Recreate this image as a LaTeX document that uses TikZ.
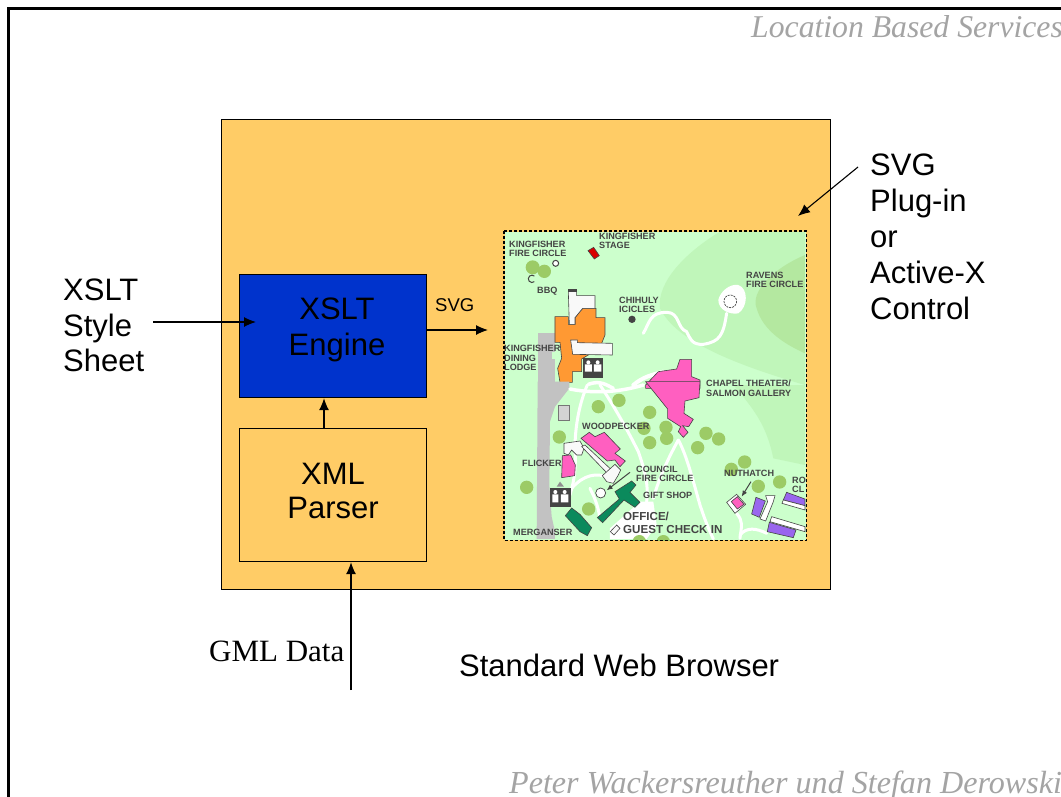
\documentclass[tikz,border=0pt]{standalone}
\usepackage{fontspec}
\setmainfont{Liberation Sans}
\newfontfamily\serifface{Liberation Serif}
\definecolor{browser}{HTML}{FFCC66}
\definecolor{engine}{HTML}{0033CC}
\definecolor{grayfoot}{HTML}{A8A8A8}
\definecolor{mapbg}{HTML}{CCFFCC}
\definecolor{hillA}{HTML}{C0F6BA}
\definecolor{hillB}{HTML}{B4E8A0}
\definecolor{treeg}{HTML}{9CCB66}
\definecolor{pinkb}{HTML}{FF5FC0}
\definecolor{orangeb}{HTML}{FF9933}
\definecolor{greenb}{HTML}{0B8A5C}
\definecolor{purpleb}{HTML}{9966EE}
\definecolor{labelg}{HTML}{444444}
\definecolor{headg}{HTML}{A4A4A4}
\tikzset{
  boxstyle/.style={draw=black,line width=1.2pt,inner sep=0pt,anchor=north west},
  biglabel/.style={font=\fontsize{31}{36}\selectfont,align=left,text=black,inner sep=0pt},
  boxtext/.style={font=\fontsize{31}{36}\selectfont,align=center,text=black,inner sep=0pt},
  arr/.style={-{Latex[length=12pt,width=10pt]},line width=1.1pt,black},
  head/.style={font=\serifface\itshape\fontsize{31.7}{34}\selectfont,text=headg,inner sep=0pt},
  ml/.style={font=\bfseries\fontsize{9.1}{9.6}\selectfont,text=labelg,align=left,inner sep=0pt,anchor=west},
  tree/.style={fill=treeg,draw=none},
  path/.style={draw=white,line width=3pt,line cap=round,line join=round},
  bld/.style={draw=labelg,line width=.6pt},
}
\usetikzlibrary{arrows.meta}
\begin{document}
\begin{tikzpicture}[x=1pt,y=-1pt]
\useasboundingbox (0,0) rectangle (1061,796);
\clip (0,0) rectangle (1061,796);
\fill[white] (0,0) rectangle (1061,796);
\draw[line width=2.2pt,black] (8.5,800) -- (8.5,8.5) -- (1065,8.5);
\node[head,anchor=west] (title) at (751,27) {Location Based Services};
\node[head,font=\serifface\itshape\fontsize{32.1}{34}\selectfont,anchor=west] (authors) at (509,786) {Peter Wackersreuther und Stefan Derowski};

\node[boxstyle,fill=browser,minimum width=609pt,minimum height=470pt] (browser) at (221,119) {};
\node[boxstyle,fill=engine,minimum width=187pt,minimum height=123pt] (xslt) at (239,274) {};
\node[boxtext] (xslttext) at (337,330) {XSLT\\Engine};
\node[boxstyle,fill=browser,minimum width=187pt,minimum height=133pt] (parser) at (239,428) {};
\node[boxtext,font=\fontsize{31}{34}\selectfont] (parsertext) at (333,491) {XML\\Parser};
\node[boxstyle,draw=none,fill=mapbg,minimum width=301pt,minimum height=308pt] (map) at (504,231) {};

% ---- campus map
\begin{scope}
\clip (map.north west) rectangle (map.south east);
% hills
\begin{scope}[shift={(500,225)},x=.3333pt,y=-.3333pt]
\fill[hillA] (660,20) .. controls (560,80) and (470,170) .. (480,250) .. controls (520,330) and (640,400) .. (915,480) -- (915,20) -- cycle;
\fill[hillB] (915,90) .. controls (820,130) and (750,200) .. (770,250) .. controls (790,320) and (860,360) .. (915,385) -- cycle;
\end{scope}
\begin{scope}[shift={(500,385)},x=.3333pt,y=-.3333pt]
\fill[hillA] (700,0) .. controls (760,70) and (800,120) .. (820,220) -- (915,240) -- (915,0) -- cycle;
\end{scope}
% zoom 1
\begin{scope}[shift={(500,225)},x=.3333pt,y=-.3333pt]
\fill[grayfoot!70!white] (113,325) -- (165,325) -- (165,480) -- (113,480) -- cycle;
\fill[mapbg] (155,380) rectangle (180,402);
\draw[path] (430,325) .. controls (450,290) and (450,262) .. (500,262) .. controls (540,262) and (530,310) .. (560,320) .. controls (570,340) and (575,360) .. (610,358) .. controls (660,350) and (670,330) .. (680,265);
\fill[white] (655,225) .. controls (660,200) and (690,175) .. (715,180) .. controls (745,190) and (745,245) .. (715,265) .. controls (690,270) and (655,255) .. (655,225) -- cycle;
\draw[labelg,line width=.7pt,fill=white,dashed,dash pattern=on 2pt off 1pt] (691,229) circle (19);
\fill[tree] (98,127) circle (21); \fill[tree] (133,139) circle (20);
\draw[labelg,line width=1pt,fill=white] (167,115) circle (9);
\draw[labelg,line width=1pt] (103,170) arc (50:310:11);
\draw[bld,fill=red!85!black] (264,77) -- (281,67) -- (298,92) -- (283,102) -- cycle;
\fill[labelg] (396,283) circle (11);
\draw[bld,fill=orangeb] (165,275) -- (205,275) -- (205,298) -- (225,298) -- (225,278) -- (248,250) -- (288,250) -- (288,278) -- (315,278) -- (315,330) -- (305,355) -- (265,390) -- (245,402) -- (245,440) -- (217,440) -- (217,472) -- (180,472) -- (173,430) -- (185,400) -- (180,352) -- (165,352) -- cycle;
\draw[bld,fill=white!95!gray] (205,200) -- (230,200) -- (230,212) -- (285,212) -- (285,250) -- (248,250) -- (225,278) -- (225,298) -- (208,298) -- cycle;
\fill[labelg] (203,192) rectangle (230,201);
\draw[bld,fill=white!95!gray] (212,345) -- (232,345) -- (232,353) -- (337,355) -- (337,390) -- (218,388) -- cycle;
\fill[labelg] (248,398) rectangle (310,460);
\fill[white] (255,418) rectangle (276,440) (282,418) rectangle (304,440);
\fill[white] (265,412) circle (6) (293,412) circle (6);
\draw[path,line width=3.5pt] (265,478) .. controls (300,465) and (320,480) .. (340,490);
\draw[path,line width=4pt] (400,480) .. controls (430,455) and (455,450) .. (490,440);
\draw[bld,fill=pinkb] (475,440) -- (530,432) -- (540,403) -- (575,403) -- (575,455) -- (600,465) -- (600,490) -- (437,490) -- (437,480) -- cycle;
\end{scope}
% zoom 2
\begin{scope}[shift={(500,385)},x=.3333pt,y=-.3333pt]
\fill[grayfoot!70!white] (113,-10) -- (208,-10) -- (208,10) -- (165,65) -- (150,110) -- (148,300) -- (155,395) -- (165,440) -- (165,462) -- (110,462) -- cycle;
\draw[grayfoot!70!black,fill=grayfoot!50!white,line width=.6pt] (175,62) rectangle (208,107);
% paths
\draw[path,line width=3.5pt] (210,12) .. controls (300,30) and (380,15) .. (430,0);
\draw[path] (262,0) .. controls (240,50) and (225,120) .. (225,190) .. controls (230,270) and (215,310) .. (210,330);
\draw[path] (300,0) .. controls (340,60) and (380,130) .. (415,200) .. controls (440,270) and (445,310) .. (440,350);
\draw[path] (535,165) .. controls (510,210) and (480,270) .. (460,340);
\draw[path] (535,165) .. controls (560,210) and (580,290) .. (600,360) .. controls (620,420) and (630,440) .. (640,462);
\draw[path] (215,310) .. controls (250,270) and (290,260) .. (330,280);
\draw[path] (270,310) .. controls (290,350) and (295,370) .. (300,400);
\draw[path] (710,385) .. controls (730,410) and (725,420) .. (720,460);
\draw[path] (720,450) .. controls (740,425) and (770,430) .. (800,445);
\fill[white] (330,430) -- (420,350) -- (460,350) -- (470,420) -- (440,462) -- (330,462) -- cycle;
% trees
\foreach \px/\py in {295/65,357/46,449/82,498/127,432/130,500/160,449/173,618/145,656/162,593/188,178/156,80/307,266/372,694/253,734/231,775/304,839/291,418/470,490/470}{\fill[tree] (\px,\py) circle (20);}
% buildings
\draw[bld,fill=pinkb] (437,-10) -- (600,-10) -- (597,38) -- (555,48) -- (552,85) -- (580,103) -- (566,125) -- (548,122) -- (564,142) -- (550,157) -- (535,140) -- (542,125) -- (503,100) -- (503,72) -- cycle;
\draw[bld,fill=white!95!gray] (192,175) -- (240,168) -- (252,190) -- (245,210) -- (230,210) -- (215,195) -- (205,210) -- (192,205) -- cycle;
\draw[bld,fill=pinkb] (243,160) -- (268,142) -- (285,155) -- (313,142) -- (361,192) -- (345,205) -- (376,228) -- (360,245) -- (345,225) -- (322,228) -- cycle;
\draw[bld,fill=white!95!gray] (245,185) -- (255,180) -- (335,255) -- (322,265) -- cycle;
\draw[bld,fill=white!95!gray] (307,272) -- (345,238) -- (362,255) -- (355,270) -- (340,295) -- (320,290) -- cycle;
\draw[bld,fill=pinkb] (187,212) -- (212,210) -- (226,240) -- (224,272) -- (185,278) -- cycle;
\draw[labelg,line width=.7pt,fill=white] (302,324) circle (15);
\draw[labelg,line width=1pt,-{Latex[length=6pt,width=5pt]}] (390,262) -- (320,316);
\draw[bld,fill=greenb] (292,398) -- (358,342) -- (345,320) -- (395,288) -- (408,300) -- (390,322) -- (420,352) -- (405,367) -- (372,345) -- (308,413) -- cycle;
\draw[bld,fill=greenb] (196,392) -- (215,369) -- (240,388) -- (275,428) -- (262,452) -- (240,440) -- cycle;
\fill[labelg] (150,310) rectangle (212,365);
\fill[white] (157,328) rectangle (175,352) (183,328) rectangle (205,352);
\fill[white] (166,321) circle (6) (194,321) circle (6);
\fill[labelg!60!white] (170,305) -- (180,290) -- (192,305) -- cycle;
\draw[bld,fill=white!95!gray] (331,440) -- (350,420) -- (360,430) -- (342,450) -- cycle;
\draw[bld,fill=white] (680,352) -- (710,328) -- (737,358) -- (705,385) -- cycle;
\draw[bld,fill=pinkb] (694,350) -- (712,335) -- (732,358) -- (712,372) -- cycle;
\draw[labelg,line width=1pt,-{Latex[length=6pt,width=5pt]}] (753,290) -- (725,335);
\draw[bld,fill=purpleb] (768,337) -- (796,348) -- (778,397) -- (755,387) -- cycle;
\draw[bld,fill=white] (797,332) -- (825,332) -- (820,350) -- (797,408) -- (780,402) -- (803,350) -- cycle;
\draw[bld,fill=purpleb] (860,322) -- (915,342) -- (915,362) -- (850,345) -- cycle;
\draw[bld,fill=white] (850,345) -- (915,362) -- (915,375) -- (846,355) -- cycle;
\draw[bld,fill=white] (815,395) -- (915,425) -- (915,440) -- (810,410) -- cycle;
\draw[bld,fill=purpleb] (808,412) -- (888,435) -- (880,458) -- (802,440) -- cycle;
\end{scope}
\end{scope}
% map labels (pixels of the reference)
\node[ml] (m1) at (509,249) {KINGFISHER\\FIRE CIRCLE};
\node[ml] (m2) at (599,241) {KINGFISHER\\STAGE};
\node[ml] (m3) at (537,291) {BBQ};
\node[ml] (m4) at (619,305) {CHIHULY\\ICICLES};
\node[ml] (m5) at (746,280) {RAVENS\\FIRE CIRCLE};
\node[ml] (m6) at (504,358) {KINGFISHER\\DINING\\LODGE};
\node[ml] (m7) at (706,388) {CHAPEL THEATER/\\SALMON GALLERY};
\node[ml] (m8) at (582,426) {WOODPECKER};
\node[ml] (m9) at (522,463) {FLICKER};
\node[ml] (m10) at (636,474) {COUNCIL\\FIRE CIRCLE};
\node[ml] (m11) at (643,495) {GIFT SHOP};
\node[ml,font=\bfseries\fontsize{11.6}{12.8}\selectfont] (m12) at (623,523) {OFFICE/\\GUEST CHECK IN};
\node[ml] (m13) at (513,532) {MERGANSER};
\node[ml] (m14) at (724,473) {NUTHATCH};
\begin{scope}
\clip (map.north west) rectangle (map.south east);
\node[ml] (m15) at (792,485) {RO\\CL};
\end{scope}
\draw[line width=1.2pt,black,dashed,dash pattern=on 3pt off 2pt] (map.north west) rectangle (map.south east);

% outside labels
\node[biglabel,font=\fontsize{31}{35.5}\selectfont,anchor=north west] (style) at (63,279) {XSLT\\Style\\Sheet};
\node[biglabel,anchor=north west] (plugin) at (870,154) {SVG\\Plug-in\\or\\Active-X\\Control};
\node[font=\fontsize{18.5}{20}\selectfont,inner sep=0pt,anchor=west] (svg) at (435,305) {SVG};
\node[font=\serifface\fontsize{31}{34}\selectfont,inner sep=0pt,anchor=west] (gml) at (209,651) {GML Data};
\node[font=\fontsize{31}{34}\selectfont,inner sep=0pt,anchor=west] (web) at (459,665) {Standard Web Browser};

% connectors
\coordinate (styleout) at (153,322);
\coordinate (xsltin) at (256,322);
\coordinate (svgout) at (xslt.east |- 0,330);
\coordinate (mapin) at (488,330);
\coordinate (gmlfree) at (351,690);
\coordinate (plugfree) at (858,167);
\coordinate (plugend) at (798,216);
\draw[arr] (styleout) -- (xsltin);
\draw[arr] (svgout) -- (mapin);
\draw[arr] (parser.north -| 324,0) -- (xslt.south -| 324,0);
\draw[arr] (gmlfree) -- (gmlfree |- parser.south);
\draw[arr] (plugfree) -- (plugend);
\end{tikzpicture}
\end{document}
